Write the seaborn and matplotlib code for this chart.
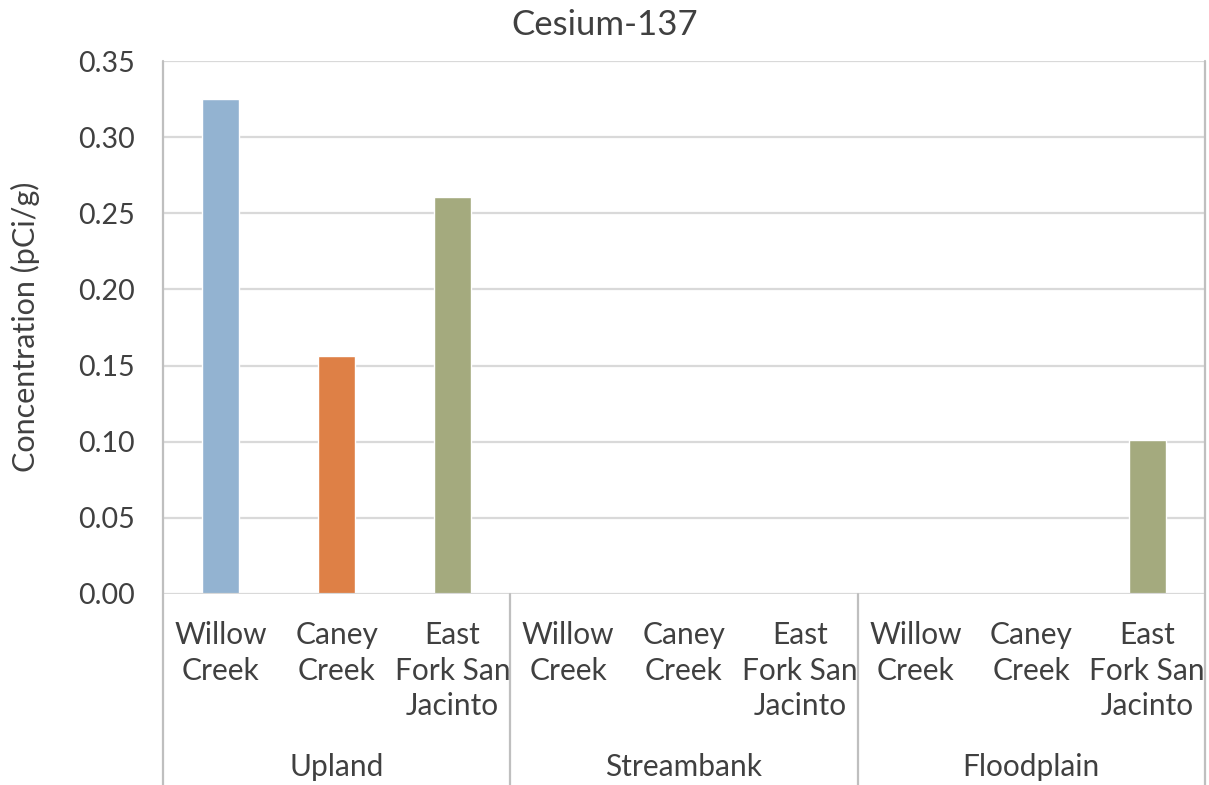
import matplotlib
matplotlib.use("Agg")
import matplotlib.pyplot as plt
import matplotlib.transforms as mtransforms
import seaborn as sns
import pandas as pd

# Sample groups, sites and measured Cs-137 concentrations (pCi/g)
groups = ["Upland", "Streambank", "Floodplain"]
sites = ["Willow Creek", "Caney Creek", "East Fork San Jacinto"]
site_labels = ["Willow\nCreek", "Caney\nCreek", "East\nFork San\nJacinto"]
upland = [0.325, 0.156, 0.261]
streambank = [0.0, 0.0, 0.0]
floodplain = [0.0, 0.0, 0.101]
site_colors = ["#93B3D1", "#DE8046", "#A4AA7E"]
yticks = [0.00, 0.05, 0.10, 0.15, 0.20, 0.25, 0.30, 0.35]

values = {"Upland": upland, "Streambank": streambank, "Floodplain": floodplain}
rows = []
for g in groups:
    for s, v in zip(sites, values[g]):
        rows.append({"slot": f"{g} | {s}", "group": g, "site": s, "value": v})
df = pd.DataFrame(rows)

sns.set_theme(style="white")
text_color = "#404040"
grid_color = "#D9D9D9"
axis_color = "#BFBFBF"
plt.rcParams["font.family"] = ["Lato", "DejaVu Sans"]

fig = plt.figure(figsize=(12.09, 7.85), dpi=100)
W, H = 1209, 785
left, right, top, bottom = 163, 1205, 61, 594
ax = fig.add_axes([left / W, (H - bottom) / H, (right - left) / W, (bottom - top) / H])

sns.barplot(data=df, x="slot", y="value", hue="site", hue_order=sites,
            palette=site_colors, dodge=False, width=0.32, legend=False,
            saturation=1, ax=ax, zorder=3)

ax.set_ylim(0, 0.35)
ax.set_xlim(-0.5, len(df) - 0.5)
ax.set_yticks(yticks)
ax.set_yticklabels([f"{t:.2f}" for t in yticks], fontsize=20.5, color=text_color)
ax.tick_params(axis="y", length=0, pad=20)
ax.set_xticks([])
ax.set_xlabel("")
ax.set_ylabel("")

for t in yticks[1:]:
    ax.axhline(t, color=grid_color, lw=1.6, zorder=1)

for side in ["top", "right", "bottom", "left"]:
    ax.spines[side].set_visible(False)

# baseline at zero
ax.axhline(0, color=grid_color, lw=1.6, zorder=4)

# category-axis separators that run down through the label area
blend = mtransforms.blended_transform_factory(ax.transData, ax.transAxes)
ext = -(H - bottom) / (bottom - top)
for xs in [-0.5, 2.5, 5.5, 8.5]:
    top_y = 1.0 if xs in (-0.5, 8.5) else 0.0
    ax.plot([xs, xs], [ext, top_y], transform=blend, color=axis_color,
            lw=1.6, clip_on=False, zorder=5)

# site labels under each bar
for i, lab in enumerate(site_labels * len(groups)):
    ax.text(i, -(621 - bottom) / (bottom - top), lab, transform=blend,
            ha="center", va="top", fontsize=21.5, color=text_color,
            linespacing=1.33)

# group labels
for gi, g in enumerate(groups):
    ax.text(gi * 3 + 1, -(767 - bottom) / (bottom - top), g, transform=blend,
            ha="center", va="center", fontsize=21.5, color=text_color)

fig.text(25 / W, 1 - 327 / H, "Concentration (pCi/g)", rotation=90,
         ha="center", va="center", fontsize=22, color=text_color)

fig.text(0.5, 1 - 25 / H, "Cesium-137", ha="center", va="center",
         fontsize=25, color=text_color)

fig.savefig("out.png", dpi=100)
